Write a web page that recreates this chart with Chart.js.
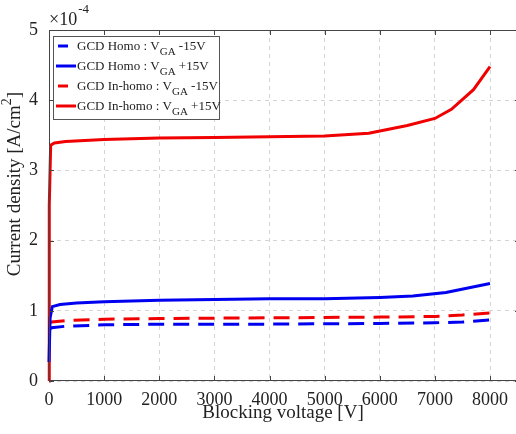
<!DOCTYPE html>
<html lang="en">
<head>
  <meta charset="UTF-8">
  <title>Current density vs blocking voltage</title>
  <script src="https://cdn.jsdelivr.net/npm/chart.js"></script>
  <style>
    html, body { margin: 0; padding: 0; background: #fff; overflow: hidden; }
    #wrap { position: absolute; left: 0; top: 0; width: 520px; height: 434px; }
  </style>
</head>
<body>
  <div id="wrap"><canvas id="myChart"></canvas></div>

  <script>
    // values in units of 1e-4 A/cm^2
    const homoM15X = [0, 50, 300, 1000, 2000, 4000, 6000, 7000, 7500, 8000];
    const homoM15Y = [0.73, 0.76, 0.78, 0.80, 0.81, 0.81, 0.82, 0.83, 0.84, 0.87];

    const homoP15X = [0, 20, 60, 200, 500, 1000, 2000, 3000, 4000, 5000, 6000, 6600, 7200, 8000];
    const homoP15Y = [0.27, 0.90, 1.06, 1.09, 1.11, 1.13, 1.15, 1.16, 1.17, 1.17, 1.19, 1.21, 1.26, 1.39];

    const inHomoM15X = [0, 50, 300, 1000, 2000, 4000, 6000, 7000, 7500, 8000];
    const inHomoM15Y = [0.82, 0.84, 0.86, 0.88, 0.89, 0.90, 0.91, 0.92, 0.94, 0.97];

    const inHomoP15X = [0, 5, 30, 100, 300, 1000, 2000, 3000, 4000, 5000, 5800, 6500, 7000, 7300, 7700, 8000];
    const inHomoP15Y = [0, 2.5, 3.36, 3.39, 3.41, 3.44, 3.46, 3.47, 3.48, 3.49, 3.53, 3.64, 3.74, 3.87, 4.15, 4.48];

    const xTicks = [0, 1000, 2000, 3000, 4000, 5000, 6000, 7000, 8000];
    const yTicks = [0, 1, 2, 3, 4, 5];

    const legendNames = ['GCD Homo : V', 'GCD Homo : V', 'GCD In-homo : V', 'GCD In-homo : V'];
    const legendSub = 'GA';
    const legendTails = [' -15V', ' +15V', ' -15V', ' +15V'];

    const serif = "'Liberation Serif', 'DejaVu Serif', serif";
    const blue = '#0000f0';
    const red = '#f00000';

    function pts(xs, ys) {
      return xs.map((x, i) => ({ x: x, y: ys[i] }));
    }

    const matlabAxes = {
      id: 'matlabAxes',
      afterDatasetsDraw(chart) {
        const c = chart.ctx;
        const a = chart.chartArea;
        const sx = chart.scales.x, sy = chart.scales.y;
        c.save();
        c.setLineDash([]);
        c.strokeStyle = '#444';
        c.lineWidth = 1;
        // box
        c.strokeRect(a.left + 0.5, a.top + 0.5, a.right - a.left - 1, a.bottom - a.top - 1);
        // inward ticks
        c.beginPath();
        xTicks.forEach(v => {
          const px = Math.round(sx.getPixelForValue(v)) + 0.5;
          c.moveTo(px, a.bottom); c.lineTo(px, a.bottom - 5);
          c.moveTo(px, a.top); c.lineTo(px, a.top + 5);
        });
        yTicks.forEach(v => {
          const py = Math.round(sy.getPixelForValue(v)) + 0.5;
          c.moveTo(a.left, py); c.lineTo(a.left + 5, py);
          c.moveTo(a.right, py); c.lineTo(a.right - 5, py);
        });
        c.stroke();

        // legend
        const lx = 53, ly = 36, lw = 166, lh = 83;
        c.fillStyle = '#fff';
        c.fillRect(lx, ly, lw, lh);
        c.strokeStyle = '#555';
        c.strokeRect(lx + 0.5, ly + 0.5, lw, lh);
        const rows = [46, 66, 86, 106];
        chart.data.datasets.forEach((ds, i) => {
          const y = rows[i];
          c.strokeStyle = ds.borderColor;
          c.lineWidth = 3;
          c.beginPath();
          if (ds.borderDash && ds.borderDash.length) {
            c.moveTo(58, y); c.lineTo(68, y);
          } else {
            c.moveTo(56, y); c.lineTo(76, y);
          }
          c.stroke();
          c.fillStyle = '#222';
          c.textBaseline = 'alphabetic';
          c.textAlign = 'left';
          c.font = '13px ' + serif;
          let tx = 77;
          c.fillText(legendNames[i], tx, y + 4);
          tx += c.measureText(legendNames[i]).width;
          c.font = '11px ' + serif;
          c.fillText(legendSub, tx, y + 9);
          tx += c.measureText(legendSub).width;
          c.font = '13px ' + serif;
          c.fillText(legendTails[i], tx, y + 4);
        });

        // exponent label
        c.fillStyle = '#222';
        c.font = '18px ' + serif;
        c.textAlign = 'left';
        c.textBaseline = 'alphabetic';
        c.fillText('\u00d710', 49, 25);
        const ew = c.measureText('\u00d710').width;
        c.font = '13px ' + serif;
        c.fillText('-4', 49 + ew + 1, 13);

        // x title
        c.font = '19px ' + serif;
        c.textAlign = 'center';
        c.textBaseline = 'middle';
        c.fillText('Blocking voltage [V]', 283, 413);

        // y title with superscript
        c.translate(15, 184);
        c.rotate(-Math.PI / 2);
        const main = 'Current density [A/cm';
        c.font = '19px ' + serif;
        const mw = c.measureText(main).width;
        c.font = '14px ' + serif;
        const sw = c.measureText('2').width;
        c.font = '19px ' + serif;
        const bw = c.measureText(']').width;
        let start = -(mw + sw + bw) / 2;
        c.textAlign = 'left';
        c.textBaseline = 'middle';
        c.fillText(main, start, 0);
        c.font = '14px ' + serif;
        c.fillText('2', start + mw, -8);
        c.font = '19px ' + serif;
        c.fillText(']', start + mw + sw, 0);
        c.restore();
      }
    };

    const ctx = document.getElementById('myChart');

    const chart = new Chart(ctx, {
      type: 'line',
      data: {
        datasets: [
          { label: 'GCD Homo : VGA -15V', data: pts(homoM15X, homoM15Y), borderColor: blue, borderDash: [16, 9], borderWidth: 3, pointRadius: 0, tension: 0, clip: false, fill: false },
          { label: 'GCD Homo : VGA +15V', data: pts(homoP15X, homoP15Y), borderColor: blue, borderWidth: 3, pointRadius: 0, tension: 0, clip: false, fill: false },
          { label: 'GCD In-homo : VGA -15V', data: pts(inHomoM15X, inHomoM15Y), borderColor: red, borderDash: [16, 9], borderWidth: 3, pointRadius: 0, tension: 0, clip: false, fill: false },
          { label: 'GCD In-homo : VGA +15V', data: pts(inHomoP15X, inHomoP15Y), borderColor: red, borderWidth: 3, pointRadius: 0, tension: 0, clip: false, fill: false }
        ]
      },
      options: {
        responsive: true,
        maintainAspectRatio: false,
        animation: false,
        layout: { padding: { top: 30, right: 0, left: 0, bottom: 0 } },
        plugins: {
          legend: { display: false },
          tooltip: { enabled: false }
        },
        scales: {
          x: {
            type: 'linear',
            min: 0,
            max: 8544,
            afterBuildTicks: (s) => { s.ticks = xTicks.map(v => ({ value: v })); },
            afterFit: (s) => { s.height = 53; },
            grid: { color: '#d4d4d4', lineWidth: 1, drawTicks: false },
            border: { display: false, dash: [4, 4] },
            ticks: {
              color: '#222',
              padding: 8,
              maxRotation: 0,
              font: { family: serif, size: 18 },
              callback: (v) => String(v)
            }
          },
          y: {
            type: 'linear',
            min: 0,
            max: 5,
            afterBuildTicks: (s) => { s.ticks = yTicks.map(v => ({ value: v })); },
            afterFit: (s) => { s.width = 49; },
            grid: { color: '#d4d4d4', lineWidth: 1, drawTicks: false },
            border: { display: false, dash: [4, 4] },
            ticks: {
              color: '#222',
              padding: 11,
              font: { family: serif, size: 18 },
              callback: (v) => String(v)
            }
          }
        }
      },
      plugins: [matlabAxes]
    });
  </script>
</body>
</html>
